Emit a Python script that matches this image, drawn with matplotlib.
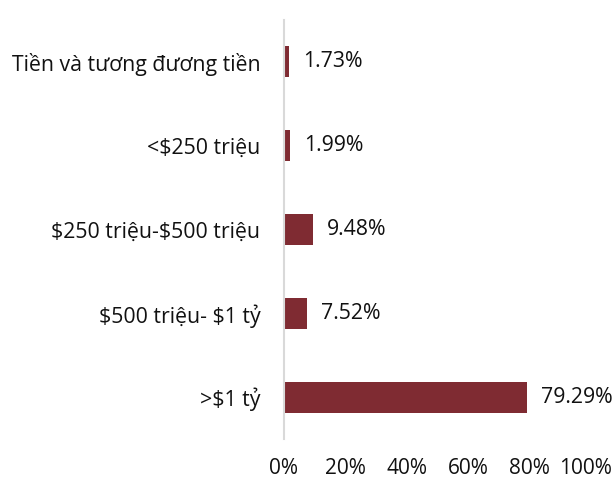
import matplotlib.pyplot as plt
import matplotlib.transforms as mtransforms
from matplotlib.ticker import FuncFormatter

# Danh mục quy mô tài sản và tỷ trọng (%)
categories = ["Tiền và tương đương tiền", "<\\$250 triệu", "\\$250 triệu-\\$500 triệu",
              "\\$500 triệu- \\$1 tỷ", ">\\$1 tỷ"]
shares = [1.73, 1.99, 9.48, 7.52, 79.29]
x_ticks = [0, 20, 40, 60, 80, 100]

plt.rcParams['font.family'] = ['Open Sans', 'DejaVu Sans']

fig = plt.figure(figsize=(6.15, 4.79), dpi=100)
ax = fig.add_axes([284 / 615, 40 / 479, 307 / 615, 419 / 479])

ypos = list(range(len(categories)))
ax.barh(ypos, shares, height=0.37, color="#7F2B32")

for y, v in zip(ypos, shares):
    ax.annotate(f"{v:.2f}%", xy=(v, y), xytext=(10, 0), textcoords="offset points",
                va="center", ha="left", fontsize=15.3, color="#111111")

ax.set_ylim(len(categories) - 0.5, -0.5)
ax.set_xlim(0, 100)
ax.set_yticks(ypos)
ax.set_yticklabels(categories, fontsize=15.3, color="#111111")
ax.set_xticks(x_ticks)
ax.xaxis.set_major_formatter(FuncFormatter(lambda v, p: f"{v:.0f}%"))
ax.tick_params(axis="x", length=0, pad=14, labelsize=15, labelcolor="#111111")
ax.tick_params(axis="y", length=0, pad=17)

# nudge the 100% label so it stays inside the canvas
last = ax.get_xticklabels()[-1]
last.set_transform(last.get_transform() + mtransforms.ScaledTranslation(-4 / 72, 0, fig.dpi_scale_trans))

for side in ["top", "right", "bottom"]:
    ax.spines[side].set_visible(False)
ax.spines["left"].set_color("#D9D9D9")
ax.spines["left"].set_linewidth(1.5)

fig.savefig("out.png", dpi=100)
